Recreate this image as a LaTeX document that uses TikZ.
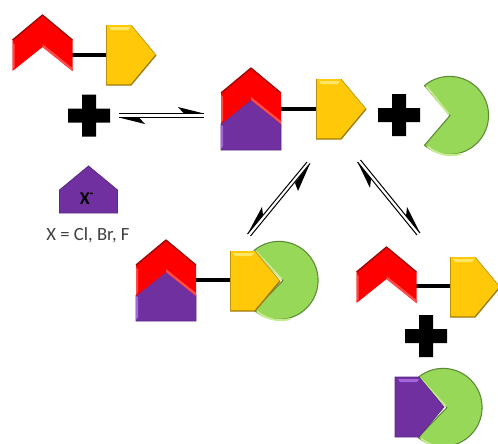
\documentclass[tikz,border=0pt]{standalone}
\usepackage{fontspec}
\setmainfont{Carlito}
\definecolor{rd}{HTML}{FF0000}
\definecolor{rdD}{HTML}{960A0A}
\definecolor{rdL}{HTML}{FF4A4A}
\definecolor{yl}{HTML}{FFC90A}
\definecolor{ylD}{HTML}{9C7A10}
\definecolor{ylL}{HTML}{FFE766}
\definecolor{pu}{HTML}{7030A0}
\definecolor{puD}{HTML}{5A2A85}
\definecolor{puL}{HTML}{A566DC}
\definecolor{gr}{HTML}{98D858}
\definecolor{grD}{HTML}{5C8A38}
\definecolor{grL}{HTML}{C4EC8E}
\tikzset{
  x=0.75pt,y=-0.75pt,
  bondline/.style={line width=3pt,black},
  eqline/.style={line width=0.75pt,black},
  barb/.style={fill=black,draw=none},
  redchev/.pic={
    \fill[rd] (0,0)--(30,25)--(30,56)--(0,32)--(-30,56)--(-30,25)--cycle;
    \draw[rdD,line width=1pt,line join=round] (-30,25)--(0,0)--(30,25);
    \fill[rdL] (-30,27)--(-28,29)--(-28,52)--(-30,55)--cycle;
    \fill[rdL] (0,32)--(30,56)--(30,53)--(0,29)--cycle;
  },
  purplecap/.pic={
    \fill[pu,draw=puD,line width=0.5pt] (0,0)--(30,24)--(30,50)--(-30,50)--(-30,24)--cycle;
    \fill[puL] (-30,25)--(-28,26)--(-28,46)--(-30,49)--cycle;
  },
  purpleion/.pic={
    \fill[pu,draw=puD,line width=0.6pt] (0,0)--(29,24)--(29,47)--(-29,47)--(-29,24)--cycle;
  },
  yellowtag/.pic={
    \fill[yl] (0,0)--(25,0)--(50,30)--(25,60)--(0,60)--cycle;
    \draw[ylD,line width=1pt,line join=round] (0,60)--(25,60)--(50,30);
    \draw[ylD!70!yl,line width=0.5pt] (0,0)--(0,60);
    \draw[ylD!70!yl,line width=0.5pt] (25,0)--(50,30);
    \fill[ylL] (3,2)--(24,2)--(22,5)--(5,5)--cycle;
  },
  purpletag/.pic={
    \fill[pu,draw=puD,line width=0.5pt] (0,0)--(24,0)--(49,30)--(24,60)--(0,60)--cycle;
    \fill[puL] (3,2)--(24,2)--(22,5)--(5,5)--cycle;
  },
  pacman/.pic={
    \fill[gr,draw=grD,line width=0.8pt,line join=round] (-25,-30) arc (230:490:39) -- (#1,0) -- cycle;
    \draw[grL,line width=1.5pt] (-23,-29)--(#1-1,-1);
    \draw[grL,line width=1.5pt] (-22,31) arc (130:75:37);
  },
  plussign/.pic={
    \fill[black] (-7,-21)--(7,-21)--(7,-7)--(21,-7)--(21,7)--(7,7)--(7,21)--(-7,21)--(-7,7)--(-21,7)--(-21,-7)--(-7,-7)--cycle;
  }
}
\begin{document}
\begin{tikzpicture}
\clip (0,0) rectangle (498,443);

% top-left molecule
\coordinate (b1a) at (72,55); \coordinate (b1b) at (106,55);
\draw[bondline] (b1a)--(b1b);
\pic at (42.5,15) {redchev};
\pic at (106,25) {yellowtag};
\pic at (89,115.5) {plussign};

% equilibrium top
\coordinate (e1a) at (119,113.5); \coordinate (e1b) at (204,113.5);
\coordinate (e1c) at (204,117.5); \coordinate (e1d) at (119,117.5);
\draw[eqline] (e1a)--(e1b);
\draw[eqline] (e1c)--(e1d);
\fill[barb] (e1b)--(178,107)--(184,113.5)--cycle;
\fill[barb] (e1d)--(145,124)--(139,117.5)--cycle;

% halide
\pic at (88.5,166) {purpleion};
\node (xion) at (87,198.5) {\fontsize{13.5}{15}\selectfont\bfseries X\textsuperscript{-}};
\node[text=black!75] (xlabel) at (88,235) {\fontsize{14}{16}\selectfont X = Cl, Br, F};

% centre molecule
\coordinate (b2a) at (281,109); \coordinate (b2b) at (316,109);
\draw[bondline] (b2a)--(b2b);
\pic at (251,100) {purplecap};
\pic at (251,68) {redchev};
\pic at (316,79) {yellowtag};
\pic at (399,115) {plussign};
\pic at (449.5,115.5) {pacman={0.5}};

% left equilibrium
\coordinate (e2a) at (307,162); \coordinate (e2b) at (247.5,234);
\coordinate (e2c) at (310,163.5); \coordinate (e2d) at (250.5,236);
\draw[eqline] (e2a)--(e2b);
\draw[eqline] (e2c)--(e2d);
\fill[barb] (e2c)--(298,191)--(295,183)--cycle;
\fill[barb] (e2b)--(262,207)--(263,215)--cycle;

% right equilibrium
\coordinate (e3a) at (357.5,162); \coordinate (e3b) at (417,235);
\coordinate (e3c) at (360.5,160); \coordinate (e3d) at (420,233);
\draw[eqline] (e3a)--(e3b);
\draw[eqline] (e3c)--(e3d);
\fill[barb] (e3a)--(370,188)--(371,179)--cycle;
\fill[barb] (e3d)--(407,207)--(406,216)--cycle;

% bottom-left complex
\coordinate (b3a) at (196,280); \coordinate (b3b) at (230,280);
\draw[bondline] (b3a)--(b3b);
\pic at (166,271) {purplecap};
\pic at (166,240) {redchev};
\pic at (279,280.5) {pacman={4}};
\pic at (230,251) {yellowtag};

% bottom-right products
\coordinate (b4a) at (416,286); \coordinate (b4b) at (450,286);
\draw[bondline] (b4a)--(b4b);
\pic at (386.5,247) {redchev};
\pic at (450,257) {yellowtag};
\pic at (426,336) {plussign};
\pic at (443,407.5) {pacman={4}};
\pic at (395,377) {purpletag};
\end{tikzpicture}
\end{document}
